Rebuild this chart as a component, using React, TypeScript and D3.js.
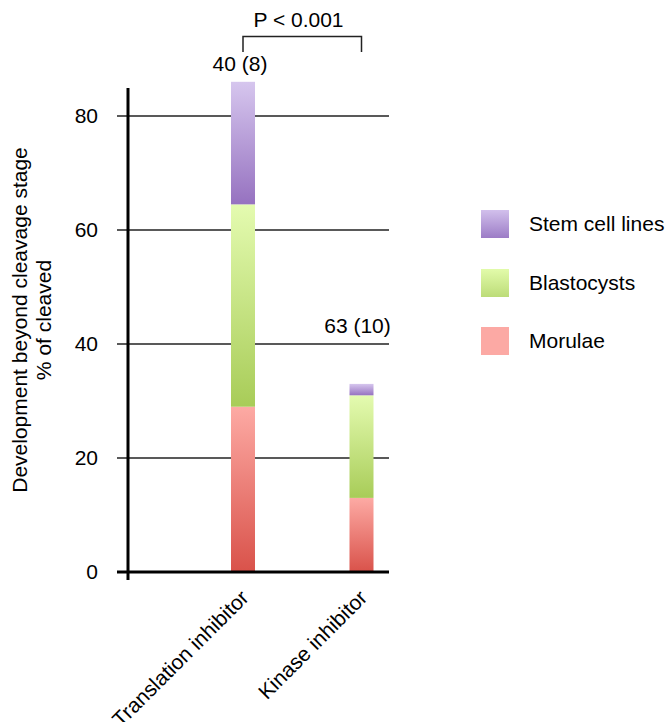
import React from "react";
import * as d3 from "d3";

const categories = ["Translation inhibitor", "Kinase inhibitor"];
const series = ["Morulae", "Blastocysts", "Stem cell lines"];
const morulae = [29, 13];
const blastocysts = [35.5, 18];
const stemCellLines = [21.5, 2];
const barLabels = ["40 (8)", "63 (10)"];
const yTicks = [0, 20, 40, 60, 80];
const pValueLabel = "P < 0.001";

const gradients: Record<string, [string, string]> = {
  "Stem cell lines": ["#d6c6ee", "#9672c0"],
  Blastocysts: ["#e4fbb0", "#a8cc58"],
  Morulae: ["#fdaaa4", "#d9524a"],
};
const legendGradients: Record<string, [string, string]> = {
  "Stem cell lines": ["#d2c0ec", "#9c7cc6"],
  Blastocysts: ["#e2fbaa", "#bcdc78"],
  Morulae: ["#fca9a4", "#fca9a4"],
};

export default function App() {
  const W = 668, H = 722;
  const y = d3.scaleLinear().domain([0, 80]).range([572, 116]);
  const x = d3.scalePoint<string>().domain(categories).range([243, 361.5]);
  const barW = 24;
  const font = "'Liberation Sans', Arial, sans-serif";
  const fs = 21;

  const data = categories.map((c, i) => ({
    cat: c,
    Morulae: morulae[i],
    Blastocysts: blastocysts[i],
    "Stem cell lines": stemCellLines[i],
  }));
  const stack = d3.stack<any>().keys(series)(data);

  const legendItems = ["Stem cell lines", "Blastocysts", "Morulae"];
  const legendY = [224, 283, 341];

  return (
    <svg width={W} height={H} style={{ position: "absolute", left: 0, top: 0 }} fontFamily={font}>
      <defs>
        {Object.entries(gradients).map(([k, [a, b]]) => (
          <linearGradient key={k} id={"g-" + k.replace(/ /g, "")} x1="0" y1="0" x2="0" y2="1">
            <stop offset="0" stopColor={a} />
            <stop offset="1" stopColor={b} />
          </linearGradient>
        ))}
        {Object.entries(legendGradients).map(([k, [a, b]]) => (
          <linearGradient key={k} id={"lg-" + k.replace(/ /g, "")} x1="0" y1="0" x2="0" y2="1">
            <stop offset="0" stopColor={a} />
            <stop offset="1" stopColor={b} />
          </linearGradient>
        ))}
      </defs>

      {/* gridlines */}
      {yTicks.filter((t) => t > 0).map((t) => (
        <line key={t} x1={117} x2={389} y1={y(t)} y2={y(t)} stroke="#222" strokeWidth={1.5} />
      ))}

      {/* bars */}
      {stack.map((s) =>
        s.map((d, i) => (
          <rect
            key={s.key + i}
            x={x(categories[i])! - barW / 2}
            width={barW}
            y={y(d[1])}
            height={y(d[0]) - y(d[1])}
            fill={`url(#g-${s.key.replace(/ /g, "")})`}
          />
        ))
      )}

      {/* axes */}
      <line x1={117} x2={389} y1={y(0)} y2={y(0)} stroke="#000" strokeWidth={3} />
      <line x1={128} x2={128} y1={88} y2={580} stroke="#000" strokeWidth={3} />

      {/* y tick labels */}
      {yTicks.map((t) => (
        <text key={t} x={98} y={y(t)} dy="0.35em" textAnchor="end" fontSize={fs} fill="#000">
          {t}
        </text>
      ))}

      {/* y title */}
      <text transform={`translate(27,320) rotate(-90)`} textAnchor="middle" fontSize={fs} fill="#000">
        <tspan x={0} dy="0">Development beyond cleavage stage</tspan>
        <tspan x={0} dy="24">% of cleaved</tspan>
      </text>

      {/* x labels */}
      {categories.map((c) => (
        <text
          key={c}
          transform={`translate(${x(c)! + 7},${599}) rotate(-45)`}
          textAnchor="end"
          fontSize={fs}
          fill="#000"
        >
          {c}
        </text>
      ))}

      {/* bar labels */}
      <text x={240} y={71} textAnchor="middle" fontSize={fs}>
        {barLabels[0]}
      </text>
      <text x={357.5} y={333} textAnchor="middle" fontSize={fs}>
        {barLabels[1]}
      </text>

      {/* p-value bracket */}
      <path d={`M${x(categories[0])},52 V36.5 H${x(categories[1])} V52`} fill="none" stroke="#222" strokeWidth={1.5} />
      <text x={298.5} y={27} textAnchor="middle" fontSize={fs}>
        {pValueLabel}
      </text>

      {/* legend */}
      {legendItems.map((k, i) => (
        <g key={k}>
          <rect x={481} y={legendY[i] - 14} width={28} height={28} fill={`url(#lg-${k.replace(/ /g, "")})`} />
          <text x={529} y={legendY[i]} dy="0.35em" fontSize={fs}>
            {k}
          </text>
        </g>
      ))}
    </svg>
  );
}
